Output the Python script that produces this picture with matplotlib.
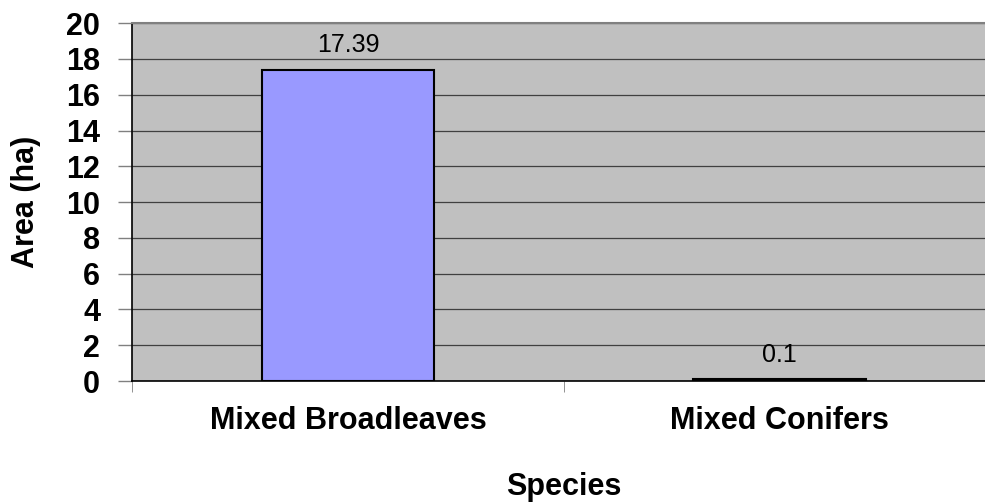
import matplotlib.pyplot as plt

plt.rcParams['font.family'] = ['Liberation Sans', 'DejaVu Sans']

# Data
species = ["Mixed Broadleaves", "Mixed Conifers"]
area = [17.39, 0.1]
labels = ["17.39", "0.1"]

fig = plt.figure(figsize=(9.85, 5.04), dpi=100)
ax = fig.add_axes([0.134, 0.244, 0.877, 0.710])
ax.set_facecolor('#C0C0C0')

x = range(len(species))
bars = ax.bar(x, area, width=0.4, color='#9999FF', edgecolor='black', linewidth=1.5, zorder=3)

for b, lab in zip(bars, labels):
    ax.text(b.get_x() + b.get_width() / 2, b.get_height() + 0.7, lab,
            ha='center', va='bottom', fontsize=18, zorder=4)

ax.set_xlim(-0.5, 1.5)
ax.set_ylim(0, 20)
ax.set_yticks(range(0, 21, 2))
ax.set_xticks(list(x))
ax.set_xticklabels(species, fontsize=22, fontweight='bold')
ax.tick_params(axis='x', length=0, pad=18)
ax.set_xticks([-0.5, 0.5, 1.5], minor=True)
ax.tick_params(axis='x', which='minor', length=8, color='#808080')
ax.tick_params(axis='y', labelsize=22, length=10, width=1, color='#808080', pad=13)
for t in ax.get_yticklabels():
    t.set_fontweight('bold')

ax.yaxis.grid(True, color='#404040', linewidth=0.9, zorder=1)
ax.set_axisbelow(True)

ax.spines['top'].set_color('#808080')
ax.spines['top'].set_linewidth(1.5)
ax.spines['right'].set_visible(False)
ax.spines['left'].set_color('black')
ax.spines['left'].set_linewidth(1.2)
ax.spines['bottom'].set_color('black')
ax.spines['bottom'].set_linewidth(1.2)

ax.set_ylabel("Area (ha)", fontsize=22, fontweight='bold', labelpad=18)
ax.set_xlabel("Species", fontsize=22, fontweight='bold', labelpad=26)

fig.savefig("out.png", dpi=100)
